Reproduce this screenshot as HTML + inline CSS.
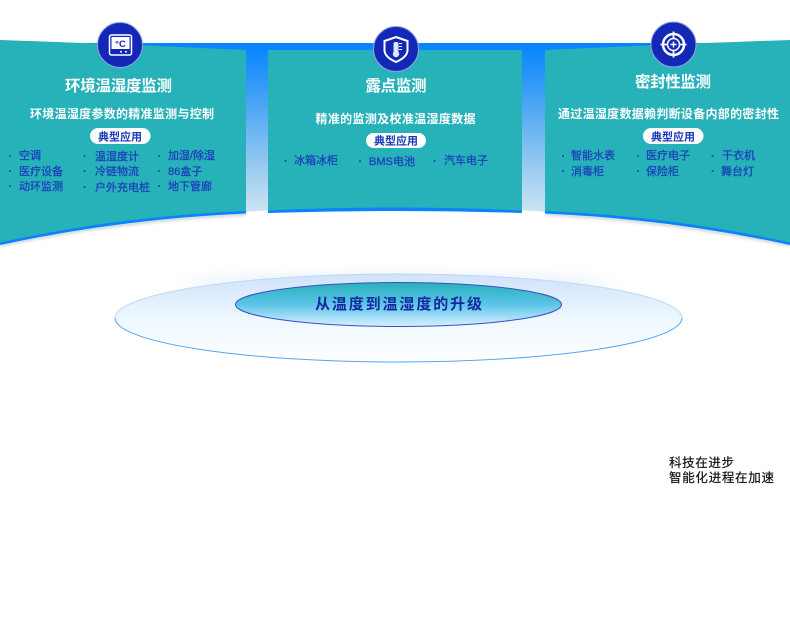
<!DOCTYPE html>
<html><head><meta charset="utf-8"><style>
html,body{margin:0;padding:0;background:#fff;width:790px;height:620px;overflow:hidden}
svg{display:block;filter:blur(.35px)}
text{font-family:"Liberation Sans","Noto Sans CJK SC",sans-serif}
.t{fill:#fff;font-size:15.500px;font-weight:700;text-anchor:middle}
.s{fill:#fff;font-size:12px;font-weight:700;text-anchor:middle}
.b{fill:#1a3ab8;font-size:11px;text-anchor:middle;font-weight:700}
.l{fill:#1b3fb8;font-size:11px;font-weight:400;stroke:#1b3fb8;stroke-width:.25}
.d{fill:#1b40b5}
</style></head><body>
<svg width="790" height="620" viewBox="0 0 790 620" xmlns="http://www.w3.org/2000/svg">
<defs>
<linearGradient id="bg" x1="0" y1="0" x2="0" y2="1"><stop offset="0" stop-color="#0583ff"/><stop offset=".3" stop-color="#3f9ff5"/><stop offset=".7" stop-color="#93c8f0"/><stop offset="1" stop-color="#cfe5f3"/></linearGradient>
<linearGradient id="o1" x1="0" y1="0" x2="0" y2="1"><stop offset="0" stop-color="#cfe3fa"/><stop offset=".5" stop-color="#eef7ff"/><stop offset="1" stop-color="#ffffff"/></linearGradient>
<linearGradient id="o2" x1="0" y1="0" x2="0" y2="1"><stop offset="0" stop-color="#27b0b9"/><stop offset=".5" stop-color="#5cc4ea"/><stop offset="1" stop-color="#d8f0fd"/></linearGradient>
<filter id="bl" x="-5%" y="-50%" width="110%" height="200%"><feGaussianBlur stdDeviation="1.500"/></filter>
<filter id="b6" x="-10%" y="-100%" width="120%" height="300%"><feGaussianBlur stdDeviation="7"/></filter>
</defs>

<path d="M30 43 H790 V214 H0 Z" fill="url(#bg)"/>
<path d="M0 247 Q395 165 790 247 L790 270 H0Z" fill="#fff"/>
<path d="M0 245 Q120 220 246 214 M545 214 Q670 220 790 245" fill="none" stroke="#5a6f8a" stroke-width="2.500" opacity=".4" filter="url(#bl)"/>

<path d="M0 245 Q120 219 246 213.500 V210 Q120 215 0 241.500Z" fill="#0a82fb"/>
<path d="M268 213 Q395 209 522 213 V209.500 Q395 204.500 268 209.500Z" fill="#0a82fb"/>
<path d="M545 213.500 Q670 219 790 245 V241.500 Q670 215 545 210Z" fill="#0a82fb"/>

<path d="M0 40 Q30 41 110 44 L246 50 V211 Q120 216 0 242.500Z" fill="#27b1b9"/>
<path d="M268 50 H522 V210.500 Q395 204.500 268 210.500Z" fill="#27b1b9"/>
<path d="M545 50 L680 44 Q760 41 790 40 V242.500 Q670 216 545 211Z" fill="#27b1b9"/>

<!-- icons -->
<circle cx="120" cy="45" r="22.500" fill="#1428b8" stroke="#8fa3e0" stroke-width="1"/>
<rect x="109.500" y="35" width="22" height="20" rx="2" fill="none" stroke="#fff" stroke-width="1.500"/>
<rect x="111.500" y="37" width="18" height="12" fill="#fff"/>
<text x="120.500" y="47" font-size="9.500" fill="#1428b8" text-anchor="middle" font-weight="700">°C</text>
<circle cx="121" cy="51.800" r="1" fill="#fff"/><circle cx="126" cy="51.800" r="1" fill="#fff"/>

<circle cx="396" cy="49" r="22.500" fill="#1428b8" stroke="#8fa3e0" stroke-width="1"/>
<path d="M396 37 L407.500 41 V50 Q407.500 57 396 62 Q384.500 57 384.500 50 V41Z" fill="none" stroke="#fff" stroke-width="2"/>
<rect x="393.500" y="42" width="5" height="11" rx="2" fill="#dfe6fa"/>
<circle cx="396" cy="54" r="3.200" fill="#dfe6fa"/>
<rect x="399" y="43" width="3" height="1" fill="#fff"/><rect x="399" y="46" width="3" height="1" fill="#fff"/><rect x="399" y="49" width="3" height="1" fill="#fff"/>

<circle cx="673.500" cy="44.500" r="22.500" fill="#1428b8" stroke="#8fa3e0" stroke-width="1"/>
<circle cx="673.500" cy="44.500" r="10.500" fill="none" stroke="#fff" stroke-width="2.500"/>
<circle cx="673.500" cy="44.500" r="6" fill="none" stroke="#fff" stroke-width="1.500"/>
<path d="M673.500 31.500 V39 M673.500 50 V57.500 M660.500 44.500 H668 M679 44.500 H686.500" stroke="#fff" stroke-width="1.800"/>
<path d="M673.500 41.500 V47.500 M670.500 44.500 H676.500" stroke="#fff" stroke-width="1.500"/>

<!-- titles -->
<text class="t" x="118.500" y="91" textLength="107" lengthAdjust="spacing">环境温湿度监测</text>
<text class="t" x="396" y="91" textLength="61" lengthAdjust="spacing">露点监测</text>
<text class="t" x="673" y="87" textLength="76" lengthAdjust="spacing">密封性监测</text>

<text class="s" x="122" y="118" textLength="184" lengthAdjust="spacing">环境温湿度参数的精准监测与控制</text>
<text class="s" x="395.500" y="123" textLength="160" lengthAdjust="spacing">精准的监测及校准温湿度数据</text>
<text class="s" x="668.500" y="118" textLength="221" lengthAdjust="spacing">通过温湿度数据赖判断设备内部的密封性</text>

<rect x="90" y="128" width="60.500" height="16" rx="8" fill="#fff"/>
<rect x="366" y="133" width="60" height="15" rx="7.500" fill="#fff"/>
<rect x="643" y="128" width="60.500" height="16" rx="8" fill="#fff"/>
<text class="b" x="120" y="140.500">典型应用</text>
<text class="b" x="396" y="144.500">典型应用</text>
<text class="b" x="673" y="140.500">典型应用</text>

<!-- lists -->
<g class="d">
<circle cx="10" cy="156" r="1"/><circle cx="10" cy="171" r="1"/><circle cx="10" cy="186" r="1"/>
<circle cx="84.500" cy="156" r="1"/><circle cx="84.500" cy="171" r="1"/><circle cx="84.500" cy="187" r="1"/>
<circle cx="159" cy="156" r="1"/><circle cx="159" cy="171" r="1"/><circle cx="159" cy="186" r="1"/>
<circle cx="285.500" cy="161" r="1"/><circle cx="360" cy="161" r="1"/><circle cx="434.500" cy="161" r="1"/>
<circle cx="563" cy="156" r="1"/><circle cx="563" cy="171" r="1"/>
<circle cx="638" cy="156" r="1"/><circle cx="638" cy="171" r="1"/>
<circle cx="712.500" cy="156" r="1"/><circle cx="712.500" cy="171" r="1"/>
</g>
<text class="l" x="19" y="159">空调</text><text class="l" x="19" y="175">医疗设备</text><text class="l" x="19" y="190">动环监测</text>
<text class="l" x="95" y="160">温湿度计</text><text class="l" x="95" y="175">冷链物流</text><text class="l" x="95" y="191">户外充电桩</text>
<text class="l" x="168" y="159">加湿/除湿</text><text class="l" x="168" y="175">86盒子</text><text class="l" x="168" y="190">地下管廊</text>
<text class="l" x="294" y="164">冰箱冰柜</text><text class="l" x="369" y="165" textLength="46">BMS电池</text><text class="l" x="444" y="164">汽车电子</text>
<text class="l" x="571" y="159">智能水表</text><text class="l" x="571" y="175">消毒柜</text>
<text class="l" x="646" y="159">医疗电子</text><text class="l" x="646" y="175">保险柜</text>
<text class="l" x="722" y="159">干衣机</text><text class="l" x="721" y="175">舞台灯</text>

<!-- ellipses -->
<ellipse cx="398" cy="283" rx="215" ry="8" fill="#bcd7f5" opacity=".4" filter="url(#b6)"/>
<ellipse cx="398.500" cy="318" rx="283.500" ry="44" fill="url(#o1)"/>
<path d="M115 318 A283.500 44 0 0 0 682 318" fill="none" stroke="#55a5f5" stroke-width="1"/>
<path d="M115 318 A283.500 44 0 0 1 682 318" fill="none" stroke="#bcd8f5" stroke-width="1"/>
<ellipse cx="398.500" cy="304.500" rx="163" ry="22" fill="url(#o2)" stroke="#3d4fbd" stroke-width="1"/>
<text x="398.500" y="309" font-size="15px" font-weight="700" fill="#14289f" text-anchor="middle" textLength="167" lengthAdjust="spacing">从温度到温湿度的升级</text>

<text x="669" y="467" font-size="12.500" fill="#111" stroke="#111" stroke-width=".2" textLength="65" lengthAdjust="spacing">科技在进步</text>
<text x="669" y="482" font-size="12.500" fill="#111" stroke="#111" stroke-width=".2" textLength="105" lengthAdjust="spacing">智能化进程在加速</text>
</svg>
</body></html>
